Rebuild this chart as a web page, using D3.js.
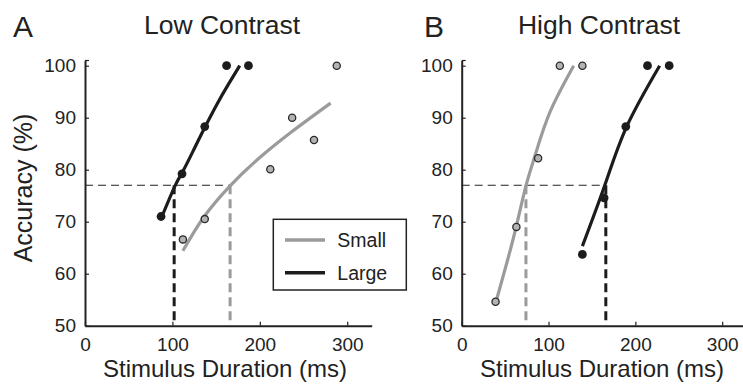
<!DOCTYPE html>
<html>
<head>
<meta charset="utf-8">
<script src="https://cdn.jsdelivr.net/npm/d3@7"></script>
<style>
  body { margin: 0; background: #fff; }
  svg { display: block; font-family: "Liberation Sans", Arial, sans-serif; }
</style>
</head>
<body>
<div id="chart"></div>
<script>
// --- data ---
const criterion = 77;

// Low contrast: measured points
const lowSmallDur = [112, 137, 212, 237, 262, 288];
const lowSmallAcc = [66.6, 70.5, 80.1, 90, 85.7, 100];
const lowLargeDur = [87, 111, 137, 162, 187];
const lowLargeAcc = [71, 79.2, 88.3, 100, 100];
// Low contrast: fitted curves (traced)
const lowSmallFitDur = [112, 136, 166, 197, 235, 281];
const lowSmallFitAcc = [64.4, 70.9, 76.9, 81.9, 87.1, 92.8];
const lowLargeFitDur = [88, 103, 112, 124, 137, 151, 164, 177];
const lowLargeFitAcc = [71.0, 76.9, 79.7, 83.7, 88.1, 92.6, 96.4, 100];
const lowThresholds = { small: 166, large: 102 };

// High contrast: measured points
const highSmallDur = [39, 63, 88, 113, 139];
const highSmallAcc = [54.6, 69, 82.2, 100, 100];
const highLargeDur = [139, 164, 189, 214, 239];
const highLargeAcc = [63.7, 74.6, 88.3, 100, 100];
// High contrast: fitted curves (traced)
const highSmallFitDur = [40, 52, 63, 74, 85, 102, 129];
const highSmallFitAcc = [54.9, 62.1, 69.2, 76.9, 83.0, 91.2, 100];
const highLargeFitDur = [139, 165, 190, 228];
const highLargeFitAcc = [65.3, 77.1, 88.3, 100];
const highThresholds = { small: 74, large: 166 };

const xTicks = [0, 100, 200, 300];
const yTicks = [50, 60, 70, 80, 90, 100];
const legendLabels = ["Small", "Large"];

const W = 743, H = 385;
const GRAY = "#9b9b9b", BLACK = "#1c1c1c", INK = "#222";

const svg = d3.select("#chart").append("svg")
  .attr("width", W).attr("height", H);

const zip = (xs, ys) => xs.map((x, i) => [x, ys[i]]);

function panel(opts) {
  const x = d3.scaleLinear().domain([0, opts.xMax]).range([opts.left, opts.right]);
  const y = d3.scaleLinear().domain([50, 101]).range([325.7, 60.5]);
  const g = svg.append("g");

  // axes
  const xAxis = d3.axisBottom(x).tickValues(xTicks).tickSizeInner(-4).tickSizeOuter(0).tickPadding(12);
  const yAxis = d3.axisLeft(y).tickValues(yTicks).tickSizeInner(-4).tickSizeOuter(0).tickPadding(9);
  const gx = g.append("g").attr("transform", `translate(0,${y(50)})`).call(xAxis);
  const gy = g.append("g").attr("transform", `translate(${x(0)},0)`).call(yAxis);
  [gx, gy].forEach(a => {
    a.select(".domain").attr("stroke", INK).attr("stroke-width", 2);
    a.selectAll(".tick line").attr("stroke", INK).attr("stroke-width", 1.2);
    a.selectAll("text").attr("fill", INK).attr("font-size", 19).attr("font-family", "Liberation Sans, Arial, sans-serif");
  });
  gy.append("line").attr("x1", 0).attr("x2", 4).attr("y1", y(101)).attr("y2", y(101))
    .attr("stroke", INK).attr("stroke-width", 1.2);

  // threshold lines
  const th = opts.thresholds;
  const maxTh = Math.max(th.small, th.large);
  g.append("line")
    .attr("x1", x(0)).attr("x2", x(maxTh)).attr("y1", y(criterion)).attr("y2", y(criterion))
    .attr("stroke", INK).attr("stroke-width", 1.1).attr("stroke-dasharray", "8,5");
  [["small", GRAY], ["large", BLACK]].forEach(([k, c]) => {
    g.append("line")
      .attr("x1", x(th[k])).attr("x2", x(th[k])).attr("y1", y(criterion)).attr("y2", y(50) - 1)
      .attr("stroke", c).attr("stroke-width", 3).attr("stroke-dasharray", "9,5");
  });

  // fitted curves
  const line = d3.line().x(d => x(d[0])).y(d => y(d[1])).curve(d3.curveNatural);
  g.append("path").datum(opts.smallFit).attr("d", line)
    .attr("fill", "none").attr("stroke", GRAY).attr("stroke-width", 3.2);
  g.append("path").datum(opts.largeFit).attr("d", line)
    .attr("fill", "none").attr("stroke", BLACK).attr("stroke-width", 3.2);

  // data points
  g.selectAll(".ps").data(opts.small).join("circle").attr("class", "ps")
    .attr("cx", d => x(d[0])).attr("cy", d => y(d[1])).attr("r", 3.6)
    .attr("fill", "#b3b3b3").attr("stroke", "#2a2a2a").attr("stroke-width", 1.3);
  g.selectAll(".pl").data(opts.large).join("circle").attr("class", "pl")
    .attr("cx", d => x(d[0])).attr("cy", d => y(d[1])).attr("r", 4.4)
    .attr("fill", BLACK);

  // titles and labels
  svg.append("text").attr("x", opts.letterX).attr("y", 36.5)
    .attr("font-size", 30).attr("fill", INK).text(opts.letter);
  svg.append("text").attr("x", opts.titleX).attr("y", 33.5).attr("text-anchor", "middle")
    .attr("font-size", 26.5).attr("fill", INK).text(opts.title);
  svg.append("text").attr("x", opts.xLabelX).attr("y", 377).attr("text-anchor", "middle")
    .attr("font-size", 24).attr("fill", INK).text("Stimulus Duration (ms)");

  return { x, y };
}

panel({
  xMax: 328, left: 85, right: 371.7,
  thresholds: lowThresholds,
  small: zip(lowSmallDur, lowSmallAcc), large: zip(lowLargeDur, lowLargeAcc),
  smallFit: zip(lowSmallFitDur, lowSmallFitAcc), largeFit: zip(lowLargeFitDur, lowLargeFitAcc),
  letter: "A", letterX: 13, title: "Low Contrast", titleX: 222, xLabelX: 225
});

panel({
  xMax: 324, left: 461.7, right: 743,
  thresholds: highThresholds,
  small: zip(highSmallDur, highSmallAcc), large: zip(highLargeDur, highLargeAcc),
  smallFit: zip(highSmallFitDur, highSmallFitAcc), largeFit: zip(highLargeFitDur, highLargeFitAcc),
  letter: "B", letterX: 424, title: "High Contrast", titleX: 599, xLabelX: 602
});

// y-axis label
svg.append("text")
  .attr("transform", "translate(32,188) rotate(-90)")
  .attr("text-anchor", "middle").attr("font-size", 25).attr("fill", INK)
  .text("Accuracy (%)");

// legend
const leg = svg.append("g").attr("transform", "translate(273.3,219.3)");
leg.append("rect").attr("width", 133).attr("height", 70.7)
  .attr("fill", "#fff").attr("stroke", INK).attr("stroke-width", 1.5);
leg.selectAll(".li").data(legendLabels).join("g").attr("class", "li")
  .attr("transform", (d, i) => `translate(0,${20.7 + i * 32.7})`)
  .each(function (d, i) {
    const s = d3.select(this);
    s.append("line").attr("x1", 11.7).attr("x2", 51.7).attr("y1", 0).attr("y2", 0)
      .attr("stroke", i === 0 ? GRAY : BLACK).attr("stroke-width", 3.6);
    s.append("text").attr("x", 64).attr("y", 7).attr("font-size", 19.5).attr("fill", INK).text(d);
  });
</script>
</body>
</html>
